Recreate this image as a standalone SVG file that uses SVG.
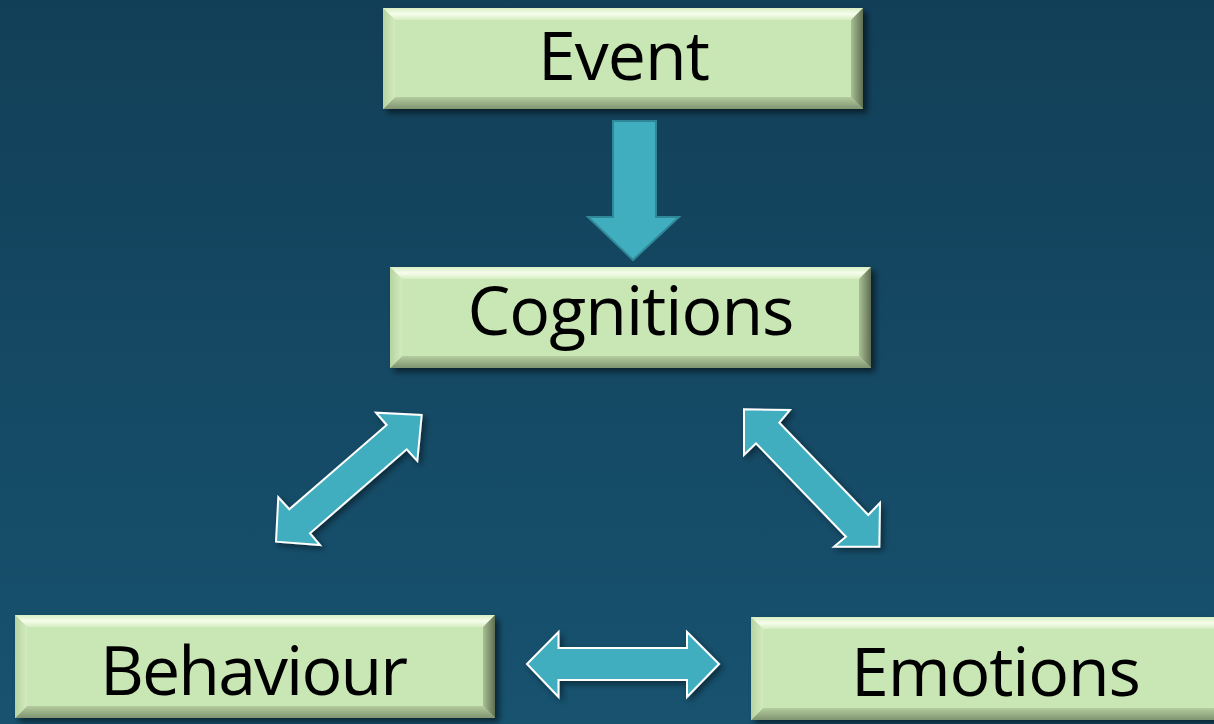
<svg xmlns="http://www.w3.org/2000/svg" width="1214" height="724" viewBox="0 0 1214 724">
<defs>
<linearGradient id="bg" x1="0" y1="0" x2="0" y2="1">
<stop offset="0" stop-color="#123f58"/>
<stop offset="1" stop-color="#17526f"/>
</linearGradient>
<linearGradient id="topb" x1="0" y1="0" x2="0" y2="1">
<stop offset="0" stop-color="#d8eec4"/>
<stop offset="0.5" stop-color="#f6fdec"/>
<stop offset="1" stop-color="#d6edc2"/>
</linearGradient>
<linearGradient id="botb" x1="0" y1="0" x2="0" y2="1">
<stop offset="0" stop-color="#b4cc9f"/>
<stop offset="1" stop-color="#7f9470"/>
</linearGradient>
<linearGradient id="leftb" x1="0" y1="0" x2="1" y2="0">
<stop offset="0" stop-color="#b7d3a2"/>
<stop offset="1" stop-color="#d2ebbe"/>
</linearGradient>
<linearGradient id="rightb" x1="0" y1="0" x2="1" y2="0">
<stop offset="0" stop-color="#a9c094"/>
<stop offset="1" stop-color="#5f6e52"/>
</linearGradient>
<filter id="sh" x="-10%" y="-20%" width="130%" height="150%">
<feDropShadow dx="4" dy="4" stdDeviation="3" flood-color="#000" flood-opacity="0.55"/>
</filter>
<filter id="ash" x="-20%" y="-20%" width="150%" height="150%">
<feDropShadow dx="3" dy="3" stdDeviation="3" flood-color="#000" flood-opacity="0.45"/>
</filter>
</defs>
<style>
.face{fill:#c9e7b4}
.lbl{font-family:"Open Sans","DejaVu Sans",sans-serif;font-size:68px;fill:#000;text-anchor:middle}
.dbl{fill:#41aebf;stroke:#ffffff;stroke-width:2;stroke-linejoin:miter}
.down{fill:#41aebf;stroke:#2f8797;stroke-width:2}
</style>
<rect width="1214" height="724" fill="url(#bg)"/>

<g id="connectors">
<polygon class="down" points="613,121 656,121 656,217 679,217 633,260 588,217 613,217"/>
<polygon class="dbl" filter="url(#ash)" points="421.7,415 417.3,461 406.7,449.3 310,533.3 320,545 276,541.7 278.3,497.3 289.3,509.3 386.7,425 376,412.7"/>
<polygon class="dbl" filter="url(#ash)" points="744,409.3 790,410 779.3,422.7 868.3,515 880,502.7 879.3,546.7 834,546.7 846,536.7 756,443.3 744,455"/>
<polygon class="dbl" filter="url(#ash)" points="527,664 558.5,632 558.5,648 687,648 687,632 719,664 687,697 687,680 558.5,680 558.5,697"/>
</g>

<g id="event">
<g filter="url(#sh)">
<rect class="face" x="383" y="8" width="480" height="101"/>
<polygon fill="url(#topb)" points="383,8 863,8 851,20 395,20"/>
<polygon fill="url(#botb)" points="383,109 863,109 851,97 395,97"/>
<polygon fill="url(#leftb)" points="383,8 395,20 395,97 383,109"/>
<polygon fill="url(#rightb)" points="863,8 851,20 851,97 863,109"/>
</g>
<text class="lbl" x="624" y="80" textLength="172" lengthAdjust="spacing">Event</text>
</g>

<g id="cognitions">
<g filter="url(#sh)">
<rect class="face" x="390" y="267" width="481" height="101"/>
<polygon fill="url(#topb)" points="390,267 871,267 859,279 402,279"/>
<polygon fill="url(#botb)" points="390,368 871,368 859,356 402,356"/>
<polygon fill="url(#leftb)" points="390,267 402,279 402,356 390,368"/>
<polygon fill="url(#rightb)" points="871,267 859,279 859,356 871,368"/>
</g>
<text class="lbl" x="631" y="335" textLength="327" lengthAdjust="spacing">Cognitions</text>
</g>

<g id="behaviour">
<g filter="url(#sh)">
<rect class="face" x="15" y="615" width="480" height="103"/>
<polygon fill="url(#topb)" points="15,615 495,615 483,627 27,627"/>
<polygon fill="url(#botb)" points="15,718 495,718 483,706 27,706"/>
<polygon fill="url(#leftb)" points="15,615 27,627 27,706 15,718"/>
<polygon fill="url(#rightb)" points="495,615 483,627 483,706 495,718"/>
</g>
<text class="lbl" x="254" y="695" textLength="308" lengthAdjust="spacing">Behaviour</text>
</g>

<g id="emotions">
<g filter="url(#sh)">
<rect class="face" x="751" y="617" width="480" height="103"/>
<polygon fill="url(#topb)" points="751,617 1231,617 1219,629 763,629"/>
<polygon fill="url(#botb)" points="751,720 1231,720 1219,708 763,708"/>
<polygon fill="url(#leftb)" points="751,617 763,629 763,708 751,720"/>
</g>
<text class="lbl" x="996" y="696" textLength="290" lengthAdjust="spacing">Emotions</text>
</g>
</svg>
